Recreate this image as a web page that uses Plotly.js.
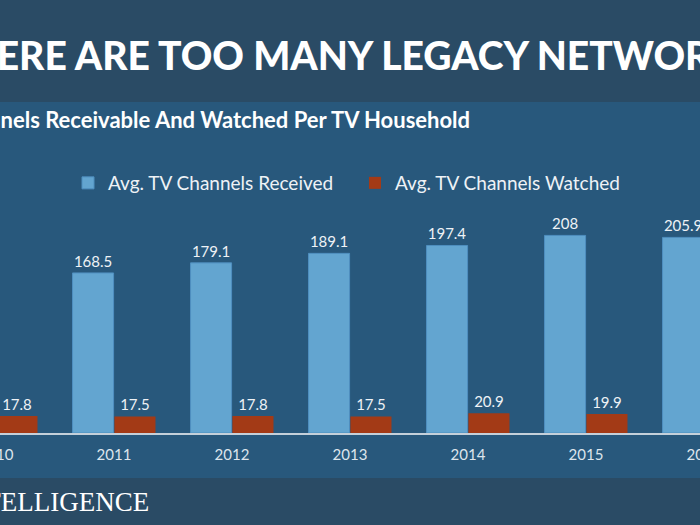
<!DOCTYPE html>
<html>
<head>
<meta charset="utf-8">
<script src="https://cdn.plot.ly/plotly-3.0.1.min.js"></script>
<style>
html,body{margin:0;padding:0;width:700px;height:525px;overflow:hidden;background:#28587c;}
#chart{position:absolute;left:-100px;top:0;width:900px;height:525px;}
</style>
</head>
<body>
<div id="chart"></div>
<script>
const years = ["2010","2011","2012","2013","2014","2015","2016"];
const received = [null, 168.5, 179.1, 189.1, 197.4, 208, 205.9];
const watched = [17.8, 17.5, 17.8, 17.5, 20.9, 19.9, null];

const navy = "#2a4b65";
const body = "#28587c";
const txt = "#eef2f6";

const PT = 140, PB = 433, PH = PB - PT;
const py = y => (PB - y) / PH;           // page y -> paper y
const px = x => (x + 100) / 900;         // page x -> paper x

const traces = [
  {type:"bar", name:"Avg. TV Channels Received", x:years, y:received,
   marker:{color:"#63a5d0", line:{color:"#4f8fbf", width:1}},
   text:received.map(v => v == null ? "" : String(v)), textposition:"outside",
   textfont:{family:"Lato, Open Sans, sans-serif", size:15, color:txt},
   constraintext:"none", cliponaxis:false, hoverinfo:"skip"},
  {type:"bar", name:"Avg. TV Channels Watched", x:years, y:watched,
   marker:{color:"#a33a16", line:{width:0}},
   text:watched.map(v => v == null ? "" : String(v)), textposition:"outside",
   textfont:{family:"Lato, Open Sans, sans-serif", size:15, color:txt},
   constraintext:"none", cliponaxis:false, hoverinfo:"skip"}
];

const layout = {
  width:900, height:525,
  margin:{l:0, r:0, t:PT, b:525 - PB, pad:0},
  paper_bgcolor:body, plot_bgcolor:body,
  barmode:"group", bargap:0.29, bargroupgap:0.02,
  showlegend:true,
  legend:{orientation:"h", x:px(68), y:py(183), xanchor:"left", yanchor:"middle",
    font:{family:"Lato, Open Sans, sans-serif", size:19, color:txt},
    bgcolor:"rgba(0,0,0,0)", entrywidth:242, itemwidth:30},
  xaxis:{type:"category", range:[-96/118, -96/118 + 900/118], fixedrange:true,
    showgrid:false, zeroline:false, showline:true, linecolor:"#c5d0da", linewidth:2,
    ticks:"", ticklabelstandoff:7,
    tickfont:{family:"Lato, Open Sans, sans-serif", size:15, color:"#dde5ec"}},
  yaxis:{range:[0, PH / 0.950], visible:false, fixedrange:true},
  shapes:[
    {type:"rect", xref:"paper", yref:"paper", x0:0, x1:1, y0:py(0), y1:py(102), fillcolor:navy, line:{width:0}, layer:"below"},
    {type:"rect", xref:"paper", yref:"paper", x0:0, x1:1, y0:py(478), y1:py(525), fillcolor:navy, line:{width:0}, layer:"below"}
  ],
  annotations:[
    {text:"THERE ARE TOO MANY LEGACY NETWORKS", xref:"paper", yref:"paper", x:px(351), y:py(55),
     xanchor:"center", yanchor:"middle", showarrow:false,
     font:{family:"Lato, sans-serif", size:39, color:"#ffffff", weight:900}},
    {text:"<b>Channels Receivable And Watched Per TV Household</b>", xref:"paper", yref:"paper", x:px(-52), y:py(119),
     xanchor:"left", yanchor:"middle", showarrow:false,
     font:{family:"Lato, sans-serif", size:22, color:"#ffffff"}},
    {text:"BI INTELLIGENCE", xref:"paper", yref:"paper", x:px(-80), y:py(502),
     xanchor:"left", yanchor:"middle", showarrow:false,
     font:{family:"Liberation Serif, DejaVu Serif, serif", size:27, color:"#ffffff"}}
  ]
};

Plotly.newPlot("chart", traces, layout, {displayModeBar:false, staticPlot:true});
</script>
</body>
</html>
